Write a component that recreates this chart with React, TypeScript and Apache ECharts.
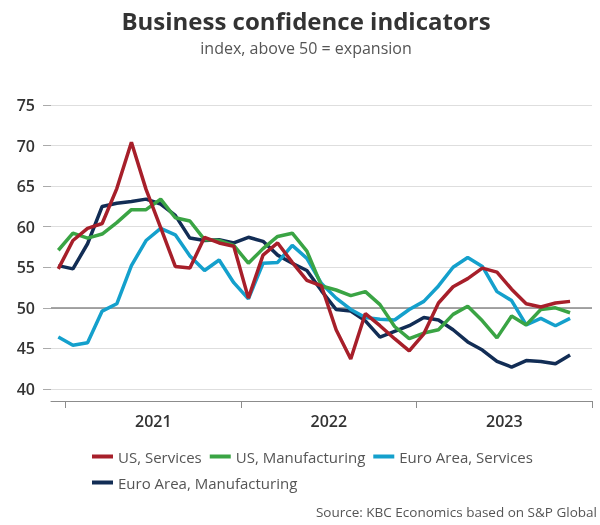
import React, { useEffect, useRef } from "react";
import * as echarts from "echarts";

const months: string[] = [
  "2020-12",
  "2021-01", "2021-02", "2021-03", "2021-04", "2021-05", "2021-06",
  "2021-07", "2021-08", "2021-09", "2021-10", "2021-11", "2021-12",
  "2022-01", "2022-02", "2022-03", "2022-04", "2022-05", "2022-06",
  "2022-07", "2022-08", "2022-09", "2022-10", "2022-11", "2022-12",
  "2023-01", "2023-02", "2023-03", "2023-04", "2023-05", "2023-06",
  "2023-07", "2023-08", "2023-09", "2023-10", "2023-11", "2023-12",
];

const usServices: number[] = [
  54.8, 58.3, 59.8, 60.4, 64.7, 70.4, 64.6, 59.9, 55.1, 54.9, 58.7, 58.0, 57.6,
  51.2, 56.5, 58.0, 55.6, 53.4, 52.7, 47.3, 43.7, 49.3, 47.8, 46.2, 44.7,
  46.8, 50.6, 52.6, 53.6, 54.9, 54.4, 52.3, 50.5, 50.1, 50.6, 50.8,
];
const usManufacturing: number[] = [
  57.1, 59.2, 58.6, 59.1, 60.5, 62.1, 62.1, 63.4, 61.1, 60.7, 58.4, 58.3, 57.7,
  55.5, 57.3, 58.8, 59.2, 57.0, 52.7, 52.2, 51.5, 52.0, 50.4, 47.7, 46.2,
  46.9, 47.3, 49.2, 50.2, 48.4, 46.3, 49.0, 47.9, 49.8, 50.0, 49.4,
];
const euroServices: number[] = [
  46.4, 45.4, 45.7, 49.6, 50.5, 55.2, 58.3, 59.8, 59.0, 56.4, 54.6, 55.9, 53.1,
  51.1, 55.5, 55.6, 57.7, 56.1, 53.0, 51.2, 49.8, 48.8, 48.6, 48.5, 49.8,
  50.8, 52.7, 55.0, 56.2, 55.1, 52.0, 50.9, 47.9, 48.7, 47.8, 48.7,
];
const euroManufacturing: number[] = [
  55.2, 54.8, 57.9, 62.5, 62.9, 63.1, 63.4, 62.8, 61.4, 58.6, 58.3, 58.4, 58.0,
  58.7, 58.2, 56.5, 55.5, 54.6, 52.1, 49.8, 49.6, 48.4, 46.4, 47.1, 47.8,
  48.8, 48.5, 47.3, 45.8, 44.8, 43.4, 42.7, 43.5, 43.4, 43.1, 44.2,
];

const seriesNames = [
  "US, Services",
  "US, Manufacturing",
  "Euro Area, Services",
  "Euro Area, Manufacturing",
];
const seriesColors = ["#a71f2a", "#3aa444", "#14a0cc", "#122d55"];
const seriesData = [usServices, usManufacturing, euroServices, euroManufacturing];

const FONT = "'Open Sans', 'Noto Sans', sans-serif";

export default function App() {
  const ref = useRef<HTMLDivElement>(null);

  useEffect(() => {
    if (!ref.current) return;
    const chart = echarts.init(ref.current, null, { renderer: "svg" });

    const series: any[] = seriesNames
      .map((name, i) => ({
        name,
        type: "line",
        data: seriesData[i],
        showSymbol: false,
        symbol: "none",
        lineStyle: { color: seriesColors[i], width: 3.5 },
        itemStyle: { color: seriesColors[i] },
        z: 10 - i,
        ...(i === 3
          ? {
              markLine: {
                silent: true,
                symbol: "none",
                label: { show: false },
                lineStyle: { color: "#888", width: 1.5, type: "solid" },
                data: [{ yAxis: 50 }],
              },
            }
          : {}),
      }))
      .reverse();

    chart.setOption({
      animation: false,
      textStyle: { fontFamily: FONT },
      grid: { left: 51, right: 8, top: 105, bottom: 136, containLabel: false },
      xAxis: {
        type: "category",
        data: months,
        boundaryGap: true,
        offset: 12,
        axisLine: { show: true, lineStyle: { color: "#8c8c8c", width: 1 } },
        axisTick: {
          show: true,
          length: 7,
          interval: (idx: number) => months[idx].endsWith("-01"),
          lineStyle: { color: "#8c8c8c", width: 1 },
        },
        axisLabel: {
          interval: (idx: number) => months[idx].endsWith("-07"),
          formatter: (v: string) => v.slice(0, 4),
          fontSize: 16,
          fontWeight: 600,
          color: "#333",
          fontFamily: FONT,
          margin: 12,
          padding: [0, 14.6, 0, 0],
        },
        splitLine: { show: false },
      },
      yAxis: {
        type: "value",
        min: 40,
        max: 75,
        interval: 5,
        axisLine: { show: false },
        axisTick: { show: true, length: 8, lineStyle: { color: "#aaa" } },
        axisLabel: {
          fontSize: 16,
          fontWeight: 600,
          color: "#333",
          fontFamily: FONT,
          margin: 16,
        },
        splitLine: { show: true, lineStyle: { color: "#dedede", width: 1 } },
      },
      legend: [
        {
          data: seriesNames.slice(0, 3),
          left: 92,
          top: 449,
          padding: 0,
          icon: "rect",
          itemWidth: 21,
          itemHeight: 4,
          itemGap: 8,
          textStyle: { fontSize: 15, color: "#555", fontFamily: FONT },
        },
        {
          data: seriesNames.slice(3),
          left: 92,
          top: 475,
          padding: 0,
          icon: "rect",
          itemWidth: 21,
          itemHeight: 4,
          itemGap: 8,
          textStyle: { fontSize: 15, color: "#555", fontFamily: FONT },
        },
      ],
      graphic: [
        {
          type: "text",
          x: 306,
          y: 20,
          style: {
            text: "Business confidence indicators",
            fontSize: 24,
            fontWeight: "bold",
            fontFamily: FONT,
            fill: "#333",
            textAlign: "center",
            textVerticalAlign: "middle",
          },
        },
        {
          type: "text",
          x: 306,
          y: 48,
          style: {
            text: "index, above 50 = expansion",
            fontSize: 16,
            fontFamily: FONT,
            fill: "#555",
            textAlign: "center",
            textVerticalAlign: "middle",
          },
        },
        {
          type: "text",
          x: 597,
          y: 512,
          style: {
            text: "Source: KBC Economics based on S&P Global",
            fontSize: 13.5,
            fontFamily: FONT,
            fill: "#555",
            textAlign: "right",
            textVerticalAlign: "middle",
          },
        },
      ],
      series,
    });

    return () => chart.dispose();
  }, []);

  return (
    <div
      ref={ref}
      style={{ position: "fixed", left: 0, top: 0, width: 600, height: 525 }}
    />
  );
}
